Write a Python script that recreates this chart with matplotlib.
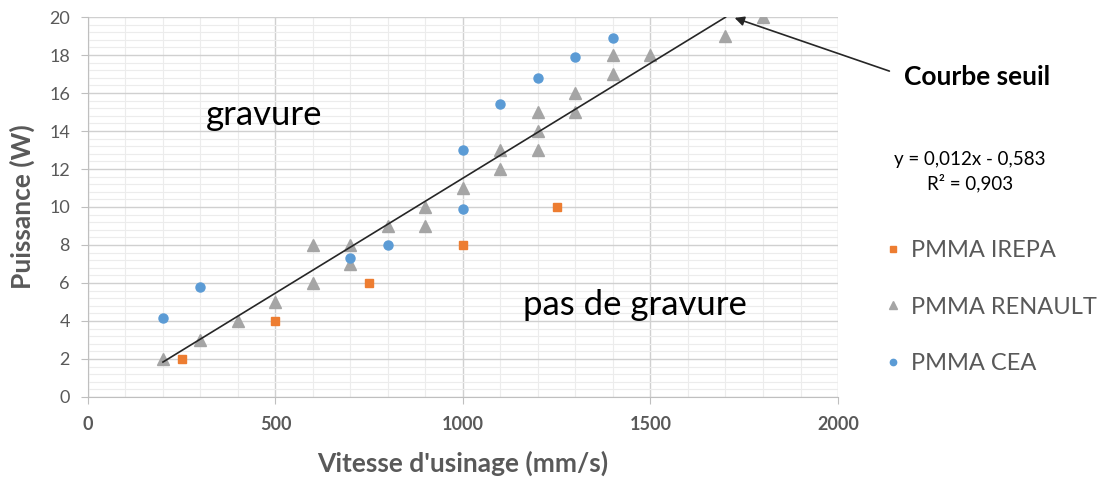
import matplotlib.pyplot as plt
from matplotlib.ticker import MultipleLocator

# data
irepa_x = [250, 500, 750, 1000, 1250]
irepa_y = [2, 4, 6, 8, 10]

renault_x = [200, 300, 400, 500, 600, 600, 700, 700, 800, 900, 900, 1000,
             1100, 1100, 1200, 1200, 1200, 1300, 1300, 1400, 1400, 1500, 1700, 1800]
renault_y = [2, 3, 4, 5, 6, 8, 7, 8, 9, 9, 10, 11,
             12, 13, 13, 14, 15, 15, 16, 17, 18, 18, 19, 20]

cea_x = [200, 300, 700, 800, 1000, 1000, 1100, 1200, 1300, 1400]
cea_y = [4.15, 5.8, 7.3, 8.0, 9.9, 13.0, 15.4, 16.8, 17.9, 18.9]

seuil_x = [200, 1700]
slope, intercept = 0.0121, -0.58

grey = '#595959'
plt.rcParams['font.family'] = ['Lato', 'DejaVu Sans']

fig = plt.figure(figsize=(11.12, 4.79), dpi=100)
ax = fig.add_axes([0.0791, 0.1712, 0.6745, 0.7933])

ax.plot(irepa_x, irepa_y, 's', color='#ED7D31', markersize=6, label='PMMA IREPA', zorder=3)
ax.plot(renault_x, renault_y, '^', color='#A5A5A5', markersize=8.5, label='PMMA RENAULT', zorder=3)
ax.plot(cea_x, cea_y, 'o', color='#5B9BD5', markersize=6.5, label='PMMA CEA', zorder=3)

seuil_y = [slope * x + intercept for x in seuil_x]
ax.plot(seuil_x, seuil_y, color='#262626', linewidth=1.2, zorder=4)

ax.set_xlim(0, 2000)
ax.set_ylim(0, 20)
ax.xaxis.set_major_locator(MultipleLocator(500))
ax.xaxis.set_minor_locator(MultipleLocator(100))
ax.yaxis.set_major_locator(MultipleLocator(2))
ax.yaxis.set_minor_locator(MultipleLocator(0.4))
ax.grid(which='major', color='#d0d0d0', linewidth=1)
ax.grid(which='minor', color='#ececec', linewidth=0.8)
ax.set_axisbelow(True)

for s in ['top', 'right']:
    ax.spines[s].set_visible(False)
for s in ['left', 'bottom']:
    ax.spines[s].set_color('#bfbfbf')
ax.tick_params(which='major', length=5, color='#bfbfbf', labelcolor=grey, labelsize=13)
ax.tick_params(which='minor', length=0)
ax.tick_params(axis='x', pad=9)
ax.tick_params(axis='y', pad=8)
for lab in ax.get_xticklabels():
    lab.set_fontweight('bold')

ax.set_xlabel("Vitesse d'usinage (mm/s)", fontsize=19, fontweight='bold', color=grey)
ax.set_ylabel('Puissance (W)', fontsize=19, fontweight='bold', color=grey)
ax.xaxis.set_label_coords(0.5, -0.174)
ax.yaxis.set_label_coords(-0.087, 0.5)
ax.xaxis.label.set_va('center')
ax.yaxis.label.set_va('center')

ax.text(469, 14.85, 'gravure', fontsize=25, ha='center', va='center', color='black')
ax.text(1459, 4.84, 'pas de gravure', fontsize=25, ha='center', va='center', color='black')

ax.annotate('', xy=(732, 462), xycoords='figure pixels',
            xytext=(892, 407), textcoords='figure pixels',
            arrowprops=dict(arrowstyle='-|>', color='#262626', lw=1.2, mutation_scale=14))
fig.text(977, 402, 'Courbe seuil', transform=None, fontsize=19, fontweight='bold',
         ha='center', va='center', color='black')
fig.text(970, 307, 'y = 0,012x - 0,583\nR² = 0,903', transform=None, fontsize=13.5,
         ha='center', va='center', multialignment='center', color='black', linespacing=1.35)

ax.legend(loc='upper left', bbox_to_anchor=(860 / 1112, 1 - 219 / 479),
          bbox_transform=fig.transFigure, frameon=False, fontsize=17,
          labelcolor=grey, labelspacing=1.5, handletextpad=0.25, markerscale=0.7,
          handlelength=1.0)

fig.savefig('out.png', dpi=100)
